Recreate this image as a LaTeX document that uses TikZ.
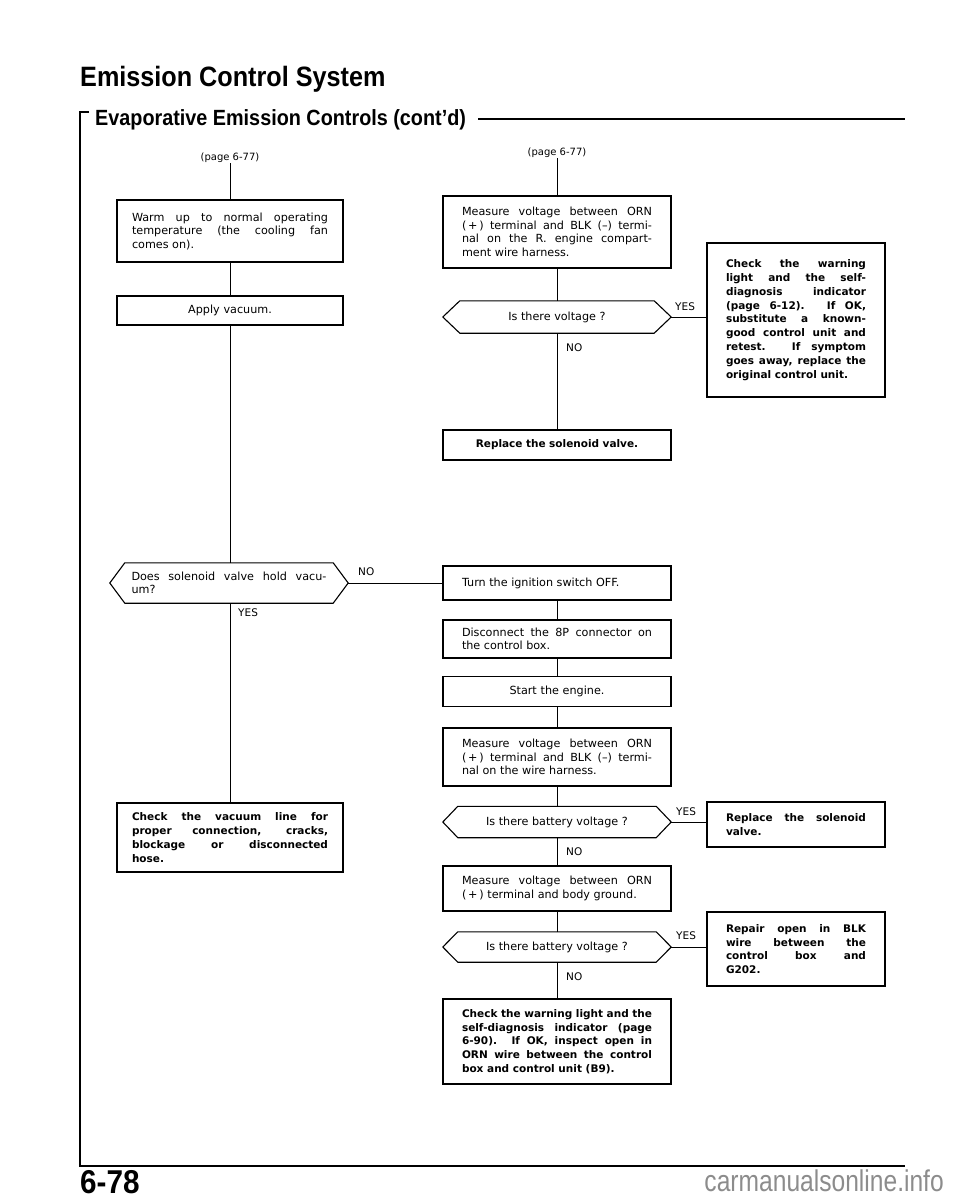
\documentclass[tikz,border=0pt]{standalone}
\usepackage{fontspec}
\setmainfont{Liberation Sans}
\newfontfamily\titlefont[FakeStretch=0.9]{Liberation Sans}
\newfontfamily\wmfont[FakeStretch=0.82]{Liberation Sans}
\newfontfamily\boxfont{DejaVu Sans}
\newcommand\hexpath[2]{\draw[line width=1.1pt] (#1.west) -- ([xshift=#2]#1.north west) -- ([xshift=-#2]#1.north east) -- (#1.east) -- ([xshift=-#2]#1.south east) -- ([xshift=#2]#1.south west) -- cycle;}
\begin{document}
\begin{tikzpicture}[x=1pt,y=-1pt,
  bx/.style={draw, line width=1.1pt, inner ysep=0pt, align=justify, font=\boxfont\fontsize{11.2}{13.5}\selectfont},
  bxb/.style={bx, font=\boxfont\fontsize{10.5}{13.8}\selectfont\bfseries},
  lbox/.style={text width=196pt, inner xsep=15pt},
  mbox/.style={text width=190pt, inner xsep=19pt},
  rbox/.style={text width=140pt, inner xsep=19pt},
  hex/.style={inner sep=0pt, align=center, font=\boxfont\fontsize{11.2}{13.5}\selectfont},
  lab/.style={inner sep=0pt, font=\boxfont\fontsize{10.5}{12}\selectfont},
  ln/.style={line width=0.9pt}]
\useasboundingbox (0,0) rectangle (960,1200);

% header
\node[anchor=base west, inner sep=0pt, font=\titlefont\fontsize{28}{30}\selectfont\bfseries] (title) at (80,86) {Emission Control System};
\node[anchor=base west, inner sep=0pt, font=\titlefont\fontsize{22}{24}\selectfont\bfseries] (sub) at (95,125) {Evaporative Emission Controls (cont’d)};
\draw[line width=1.8pt] ([xshift=12pt]sub.east |- 0,119) -- (905,119);
\draw[line width=1.5pt] (89,112) -- (80,112) -- (80,1166) -- (905,1166);
\node[anchor=base west, inner sep=0pt, font=\titlefont\fontsize{33}{34}\selectfont\bfseries] (pg) at (80,1193) {6-78};
\node[anchor=base east, inner sep=0pt, text=black!45, font=\wmfont\fontsize{30}{31}\selectfont] (wm) at (944,1191) {carmanualsonline.info};

% left column
\node[lab, font=\boxfont\fontsize{10}{12}\selectfont] (pL) at (230,158) {(page 6-77)};
\node[bx, lbox, minimum height=62pt] (B1) at (230,231) {Warm up to normal operating\break temperature (the cooling fan\break comes on).};
\node[bx, lbox, minimum height=29pt, align=center] (B2) at (230,310.5) {Apply vacuum.};
\node[hex, minimum width=238pt, minimum height=40pt, text width=195pt, align=justify] (D1) at (229,583) {Does solenoid valve hold vacu-\break um?};
\hexpath{D1}{15}
\node[lab, anchor=west] (d1no) at (358,572) {NO};
\node[lab, anchor=west] (d1yes) at (238,613) {YES};
\node[bxb, lbox, minimum height=69pt] (B3) at (230,837.5) {Check the vacuum line for\break proper connection, cracks,\break blockage or disconnected\break hose.};

% middle column top
\node[lab, font=\boxfont\fontsize{10}{12}\selectfont] (pM) at (557,153) {(page 6-77)};
\node[bx, mbox, minimum height=72pt] (M1) at (557,232) {Measure voltage between ORN\break (\,+\,) terminal and BLK (–) termi-\break nal on the R. engine compart-\break ment wire harness.};
\node[hex, minimum width=228pt, minimum height=32pt] (H1) at (557,317) {Is there voltage ?};
\hexpath{H1}{17}
\node[lab, anchor=west] (h1yes) at (675,307) {YES};
\node[lab, anchor=west] (h1no) at (566,348) {NO};
\node[bxb, mbox, minimum height=30pt, align=center] (R1) at (557,445) {Replace the solenoid valve.};
\node[bxb, rbox, minimum height=154pt] (RB1) at (796,320) {Check the warning\break light and the self-\break diagnosis indicator\break (page 6-12). If OK,\break substitute a known-\break good control unit and\break retest. If symptom\break goes away, replace the\break original control unit.};

% middle column bottom
\node[bx, mbox, minimum height=34pt] (T1) at (557,583) {Turn the ignition switch OFF.};
\node[bx, mbox, minimum height=38pt] (T2) at (557,639) {Disconnect the 8P connector on\break the control box.};
\node[bx, mbox, minimum height=30pt, align=center] (T3) at (557,691.5) {Start the engine.};
\node[bx, mbox, minimum height=58pt] (T4) at (557,757) {Measure voltage between ORN\break (\,+\,) terminal and BLK (–) termi-\break nal on the wire harness.};
\node[hex, minimum width=228pt, minimum height=31pt] (H2) at (557,822) {Is there battery voltage ?};
\hexpath{H2}{15}
\node[lab, anchor=west] (h2yes) at (676,812) {YES};
\node[lab, anchor=west] (h2no) at (566,852) {NO};
\node[bxb, rbox, minimum height=45pt] (RB2) at (796,824.5) {Replace the solenoid\break valve.};
\node[bx, mbox, minimum height=45pt] (T5) at (557,888.5) {Measure voltage between ORN\break (\,+\,) terminal and body ground.};
\node[hex, minimum width=228pt, minimum height=30pt] (H3) at (557,947) {Is there battery voltage ?};
\hexpath{H3}{15}
\node[lab, anchor=west] (h3yes) at (676,936) {YES};
\node[lab, anchor=west] (h3no) at (566,977) {NO};
\node[bxb, rbox, minimum height=74pt] (RB3) at (796,949) {Repair open in BLK\break wire between the\break control box and\break G202.};
\node[bxb, mbox, minimum height=85pt] (T6) at (557,1041.5) {Check the warning light and the\break self-diagnosis indicator (page\break 6-90). If OK, inspect open in\break ORN wire between the control\break box and control unit (B9).};

% connectors
\draw[ln] (pL.south) -- (B1.north);
\draw[ln] (B1.south) -- (B2.north);
\draw[ln] (B2.south) -- (B2.south |- D1.north);
\draw[ln] (D1.south -| B3.north) -- (B3.north);
\draw[ln] (D1.east) -- (T1.west);
\draw[ln] (pM.south) -- (M1.north);
\draw[ln] (M1.south) -- (H1.north);
\draw[ln] (H1.south) -- (R1.north);
\draw[ln] (H1.east) -- (H1.east -| RB1.west);
\draw[ln] (T1.south) -- (T2.north);
\draw[ln] (T2.south) -- (T3.north);
\draw[ln] (T3.south) -- (T4.north);
\draw[ln] (T4.south) -- (H2.north);
\draw[ln] (H2.east) -- (H2.east -| RB2.west);
\draw[ln] (H2.south) -- (T5.north);
\draw[ln] (T5.south) -- (H3.north);
\draw[ln] (H3.east) -- (H3.east -| RB3.west);
\draw[ln] (H3.south) -- (T6.north);
\end{tikzpicture}
\end{document}
